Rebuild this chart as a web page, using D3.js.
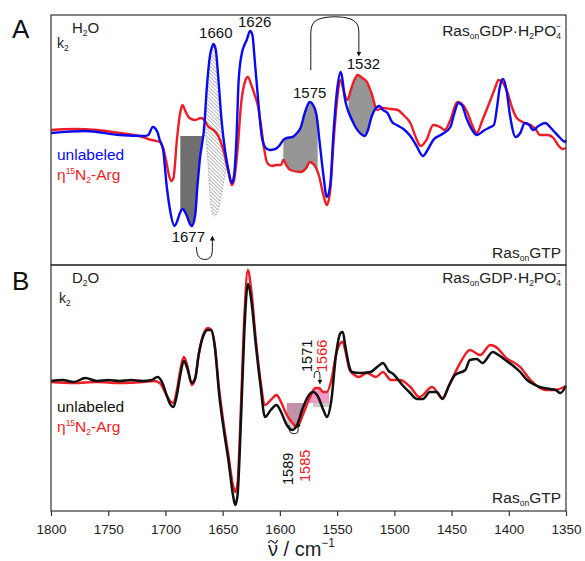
<!DOCTYPE html>
<html>
<head>
<meta charset="utf-8">
<script src="https://cdn.jsdelivr.net/npm/d3@7"></script>
<style>
  body { margin: 0; background: #fff; }
  svg { display: block; font-family: "Liberation Sans", Arial, sans-serif; }
</style>
</head>
<body>
<script>
// Spektren, [Wellenzahl, Differenzsignal]
const blueA = [[1800,-0.03],[1770,-0.01],[1740,-0.05],[1718,-0.06],[1715,-0.05],[1711,0.03],[1707,-0.02],[1705,-0.10],[1702,-0.20],[1699,-0.55],[1696,-0.80],[1692,-0.96],[1690,-0.92],[1687,-0.82],[1685,-0.79],[1682,-0.84],[1678,-0.95],[1677,-0.96],[1674,-0.85],[1672,-0.55],[1670,-0.30],[1666,0.05],[1664,0.40],[1661,0.75],[1659,0.84],[1658,0.86],[1656,0.80],[1654,0.55],[1651,0.10],[1648,-0.20],[1645,-0.40],[1642,-0.53],[1640,-0.45],[1638,-0.10],[1636,0.50],[1633,0.78],[1631,0.85],[1629,0.90],[1626,0.99],[1624,0.95],[1622,0.70],[1619,0.30],[1616,-0.05],[1613,-0.17],[1609,-0.20],[1604,-0.19],[1600,-0.15],[1597,-0.10],[1594,-0.08],[1589,-0.07],[1585,-0.03],[1582,0.02],[1578,0.18],[1574,0.28],[1571,0.25],[1568,0.15],[1565,-0.15],[1562,-0.45],[1559,-0.67],[1556,-0.55],[1553,0.0],[1550,0.40],[1547,0.58],[1546,0.55],[1543,0.30],[1540,0.18],[1537,0.10],[1534,0.03],[1530,-0.03],[1526,-0.06],[1523,0.0],[1520,0.13],[1516,0.22],[1513,0.24],[1510,0.20],[1506,0.17],[1502,0.08],[1498,0.05],[1492,0.01],[1486,-0.06],[1481,-0.15],[1475,-0.26],[1471,-0.20],[1466,-0.10],[1458,-0.04],[1451,0.03],[1448,0.15],[1444,0.27],[1441,0.25],[1437,0.12],[1432,0.0],[1428,-0.05],[1421,0.0],[1416,0.03],[1413,0.05],[1410,0.25],[1408,0.42],[1405,0.51],[1402,0.40],[1399,0.15],[1394,-0.07],[1390,-0.03],[1386,0.07],[1382,0.05],[1379,0.0],[1374,0.04],[1368,0.07],[1364,0.03],[1360,-0.02],[1355,-0.08],[1351,-0.12],[1350,-0.10]];

const redA = [[1800,0.0],[1780,0.01],[1760,0.0],[1740,-0.03],[1720,-0.07],[1712,-0.10],[1705,-0.12],[1702,-0.18],[1699,-0.33],[1697,-0.45],[1695,-0.51],[1693,-0.48],[1690,-0.10],[1687,0.18],[1685,0.25],[1683,0.20],[1679,0.12],[1674,0.10],[1669,0.12],[1666,0.10],[1663,0.04],[1657,-0.01],[1653,-0.08],[1649,-0.22],[1645,-0.42],[1642,-0.55],[1640,-0.50],[1637,-0.20],[1634,0.25],[1630,0.50],[1628,0.53],[1625,0.45],[1622,0.35],[1619,0.23],[1616,0.0],[1614,-0.17],[1611,-0.33],[1607,-0.36],[1603,-0.35],[1599,-0.35],[1597,-0.30],[1594,-0.36],[1591,-0.40],[1582,-0.42],[1577,-0.38],[1574,-0.32],[1570,-0.35],[1566,-0.45],[1562,-0.65],[1559,-0.75],[1556,-0.60],[1553,-0.10],[1550,0.30],[1547,0.50],[1544,0.38],[1541,0.30],[1538,0.40],[1535,0.50],[1532,0.55],[1528,0.52],[1524,0.48],[1520,0.37],[1515,0.20],[1510,0.22],[1503,0.21],[1497,0.20],[1492,0.15],[1486,0.07],[1481,-0.08],[1477,-0.16],[1472,-0.10],[1466,0.05],[1460,0.03],[1456,0.0],[1451,0.10],[1445,0.28],[1440,0.25],[1436,0.17],[1432,0.05],[1428,-0.03],[1423,0.10],[1416,0.30],[1412,0.42],[1409,0.50],[1405,0.47],[1401,0.37],[1397,0.22],[1393,0.12],[1386,0.07],[1381,0.05],[1376,0.0],[1373,-0.05],[1366,-0.05],[1361,-0.08],[1357,-0.15],[1353,-0.19],[1350,-0.18]];

// untere Kante der schraffierten Fläche (1660)
const hatchLow = [[1646,-0.30],[1648,-0.45],[1650,-0.57],[1652,-0.70],[1654,-0.80],[1656,-0.85],[1658,-0.86],[1660,-0.78],[1661,-0.65],[1663,-0.30],[1665,-0.02],[1666,0.05]];

const blackB = [[1800,0.0],[1790,0.01],[1780,-0.01],[1770,0.03],[1760,0.0],[1750,0.01],[1740,0.0],[1730,0.01],[1720,0.0],[1712,0.01],[1707,0.04],[1703,-0.01],[1699,-0.14],[1696,-0.23],[1693,-0.26],[1690,-0.14],[1687,0.06],[1684,0.20],[1681,0.13],[1677,-0.02],[1674,0.03],[1671,0.26],[1667,0.45],[1663,0.51],[1660,0.51],[1657,0.36],[1653,-0.14],[1649,-0.49],[1645,-0.79],[1641,-1.14],[1639,-1.24],[1637,-1.14],[1634,-0.39],[1631,0.51],[1628,0.97],[1625,0.81],[1621,0.36],[1617,-0.04],[1613,-0.36],[1608,-0.29],[1603,-0.24],[1599,-0.31],[1594,-0.44],[1589,-0.49],[1585,-0.44],[1580,-0.27],[1574,-0.13],[1571,-0.11],[1567,-0.15],[1562,-0.29],[1559,-0.36],[1555,-0.19],[1551,0.26],[1547,0.48],[1545,0.49],[1543,0.36],[1539,0.13],[1537,0.09],[1530,0.08],[1521,0.09],[1514,0.15],[1510,0.18],[1505,0.10],[1501,0.07],[1493,-0.04],[1487,-0.11],[1480,-0.18],[1475,-0.18],[1469,-0.11],[1463,-0.11],[1458,-0.18],[1452,-0.04],[1447,0.06],[1438,0.11],[1434,0.21],[1428,0.22],[1423,0.18],[1414,0.29],[1409,0.26],[1403,0.21],[1397,0.16],[1390,0.09],[1384,0.01],[1377,-0.04],[1373,-0.06],[1364,-0.08],[1359,-0.09],[1355,-0.12],[1350,-0.05]];

const redB = [[1800,-0.01],[1780,-0.02],[1760,-0.01],[1740,-0.02],[1720,-0.01],[1710,0.0],[1705,-0.02],[1700,-0.12],[1696,-0.20],[1693,-0.22],[1690,-0.09],[1687,0.11],[1684,0.24],[1681,0.16],[1677,-0.04],[1674,0.02],[1671,0.26],[1667,0.46],[1663,0.53],[1660,0.51],[1657,0.36],[1653,-0.09],[1649,-0.44],[1645,-0.74],[1641,-1.04],[1639,-1.11],[1637,-1.02],[1634,-0.24],[1631,0.66],[1628,1.11],[1625,0.91],[1621,0.41],[1617,0.01],[1613,-0.24],[1608,-0.19],[1603,-0.14],[1599,-0.21],[1594,-0.34],[1589,-0.42],[1585,-0.46],[1580,-0.34],[1574,-0.17],[1569,-0.07],[1566,-0.07],[1562,-0.11],[1559,-0.11],[1555,0.01],[1551,0.26],[1547,0.38],[1545,0.39],[1543,0.31],[1539,0.11],[1535,0.06],[1531,0.04],[1524,0.08],[1516,0.04],[1510,0.09],[1503,0.01],[1495,0.01],[1486,-0.06],[1478,-0.16],[1467,-0.06],[1458,-0.17],[1452,-0.04],[1447,0.08],[1441,0.21],[1434,0.31],[1425,0.26],[1416,0.36],[1410,0.33],[1403,0.24],[1390,0.14],[1381,0.01],[1368,-0.09],[1360,-0.09],[1350,-0.05]];

const xTicks = [1800, 1750, 1700, 1650, 1600, 1550, 1500, 1450, 1400, 1350];

// ==============================

const W = 585, H = 561;
const BLUE = "#0a0af0", RED = "#ee1c24", BLACK = "#111";

const svg = d3.select("body").append("svg").attr("width", W).attr("height", H);

const x = d3.scaleLinear().domain([1800, 1350]).range([51, 566]);
const yA = d3.scaleLinear().domain([0, 1]).range([130, 30]);
const yB = d3.scaleLinear().domain([0, 1]).range([381, 281]);

// lineare Interpolation in einer Serie (absteigende Wellenzahl)
function interp(s, w) {
    for (let i = 0; i < s.length - 1; i++) {
        const [w0, v0] = s[i], [w1, v1] = s[i + 1];
        if (w <= w0 && w >= w1) return v0 + (v1 - v0) * (w - w0) / (w1 - w0);
    }
    return s[s.length - 1][1];
}

// Punkte zwischen zwei Kurven (oder Kurve und Konstante)
function band(a, b, hi, lo) {
    const ws = new Set([hi, lo]);
    a.forEach(d => { if (d[0] < hi && d[0] > lo) ws.add(d[0]); });
    if (Array.isArray(b)) b.forEach(d => { if (d[0] < hi && d[0] > lo) ws.add(d[0]); });
    return [...ws].sort((p, q) => q - p).map(w => ({
        w, a: interp(a, w), b: Array.isArray(b) ? interp(b, w) : b
    }));
}

function fillBand(y, data, fill, opacity = 1) {
    svg.append("path")
        .datum(data)
        .attr("fill", fill)
        .attr("fill-opacity", opacity)
        .attr("d", d3.area().x(d => x(d.w)).y0(d => y(d.b)).y1(d => y(d.a)).curve(d3.curveMonotoneX));
}

function drawLine(y, s, color, width) {
    svg.append("path")
        .datum(s)
        .attr("fill", "none")
        .attr("stroke", color)
        .attr("stroke-width", width)
        .attr("stroke-linejoin", "round")
        .attr("d", d3.line().x(d => x(d[0])).y(d => y(d[1])).curve(d3.curveMonotoneX));
}

// Schraffur
const defs = svg.append("defs");
defs.append("pattern")
    .attr("id", "hatch")
    .attr("patternUnits", "userSpaceOnUse")
    .attr("width", 2.6).attr("height", 2.6)
    .attr("patternTransform", "rotate(-45)")
    .append("line")
    .attr("x1", 0).attr("y1", 0).attr("x2", 0).attr("y2", 2.6)
    .attr("stroke", "#666").attr("stroke-width", 0.9);

// ----- Panel A -----
fillBand(yA, band(blueA, -0.06, 1687, 1666), "#6f6f6f");
fillBand(yA, band(blueA, redA, 1597, 1567), "#969696");
fillBand(yA, band(redA, blueA, 1540, 1515), "#969696");

const hatchPoly = blueA.filter(d => d[0] <= 1666 && d[0] >= 1648).concat(hatchLow);
svg.append("path")
    .datum(hatchPoly)
    .attr("fill", "url(#hatch)")
    .attr("stroke", "#888")
    .attr("stroke-width", 0.7)
    .attr("stroke-dasharray", "1.5,1.5")
    .attr("d", d3.line().x(d => x(d[0])).y(d => yA(d[1])).curve(d3.curveCatmullRomClosed));

drawLine(yA, redA, RED, 2.4);
drawLine(yA, blueA, BLUE, 2.4);

// ----- Panel B -----
fillBand(yB, band(redB, -0.22, 1594, 1557), "#ee8fc0", 0.9);
fillBand(yB, band(blackB, -0.22, 1594, 1577), "#8a8a8a", 0.45);
fillBand(yB, band(blackB, -0.22, 1571, 1557).map(d => ({ w: d.w, a: -0.22, b: -0.26 })), "#bbbbbb", 0.8);

drawLine(yB, redB, RED, 2.4);
drawLine(yB, blackB, BLACK, 2.5);

// Rahmen
svg.append("rect").attr("x", 51).attr("y", 15).attr("width", 515).attr("height", 250)
    .attr("fill", "none").attr("stroke", "#333").attr("stroke-width", 1.2);
svg.append("rect").attr("x", 51).attr("y", 265).attr("width", 515).attr("height", 246)
    .attr("fill", "none").attr("stroke", "#333").attr("stroke-width", 1.2);

// x-Achse
const axis = svg.append("g")
    .attr("transform", "translate(0,511)")
    .call(d3.axisBottom(x).tickValues(xTicks).tickSize(5).tickPadding(8).tickFormat(d3.format("d")));
axis.select(".domain").remove();
axis.selectAll("line").attr("stroke", "#333").attr("stroke-width", 1.2);
axis.selectAll("text").attr("font-size", 13.5).attr("fill", "#222")
    .attr("font-family", "'Liberation Sans', Arial, sans-serif");

const xl = svg.append("text").attr("x", 268).attr("y", 556)
    .attr("font-size", 20).attr("fill", "#222");
const nu = xl.append("tspan").text("\u03BD");
xl.append("tspan").text(" / cm");
xl.append("tspan").attr("dy", -9).attr("font-size", 12).text("\u22121");
// Tilde über dem ν als Pfad
const nuC = 268 + nu.node().getComputedTextLength() / 2;
svg.append("path")
    .attr("d", d3.line().curve(d3.curveBasis)([[nuC - 4.5, 543], [nuC - 2.5, 539.5], [nuC, 542], [nuC + 2.5, 544], [nuC + 4.5, 540]]))
    .attr("fill", "none").attr("stroke", "#222").attr("stroke-width", 1.2);

// ----- Texte -----
function txt(px, py, size, color, anchor = "start") {
    return svg.append("text").attr("x", px).attr("y", py).attr("font-size", size)
        .attr("fill", color).attr("text-anchor", anchor);
}
function sub(t, s, dy = 3, size = 8.5) {
    t.append("tspan").attr("dy", dy).attr("font-size", size).text(s);
    return t;
}
function norm(t, s, dy) {
    t.append("tspan").attr("dy", dy).text(s);
    return t;
}

txt(12, 38, 26, "#111").text("A");
txt(12, 290, 26, "#111").text("B");

// Panel-Ecken
let t = txt(72, 33, 15, "#222"); norm(t, "H", 0); sub(t, "2", 3); norm(t, "O", -3);
t = txt(57, 48, 14, "#222"); norm(t, "k", 0); sub(t, "2", 3);
t = txt(72, 283, 15, "#222"); norm(t, "D", 0); sub(t, "2", 3); norm(t, "O", -3);
t = txt(59, 303, 14, "#222"); norm(t, "k", 0); sub(t, "2", 3);

function rasGDP(py) {
    const r = txt(561, py, 15.5, "#222", "end");
    norm(r, "Ras", 0); sub(r, "on", 3); norm(r, "GDP\u00B7H", -3); sub(r, "2", 3); norm(r, "PO", -3); sub(r, "4", 3);
    r.append("tspan").attr("dy", -10).attr("dx", -5).attr("font-size", 8.5).text("\u2212");
}
function rasGTP(py) {
    const r = txt(561, py, 15.5, "#222", "end");
    norm(r, "Ras", 0); sub(r, "on", 3); norm(r, "GTP", -3);
}
rasGDP(36); rasGTP(258);
rasGDP(283); rasGTP(503);

function legend(py, col1) {
    txt(57, py, 15.5, col1).text("unlabeled");
    const r = txt(57, py + 20, 15.5, RED);
    norm(r, "\u03B7", 0); sub(r, "15", -6); norm(r, "N", 6); sub(r, "2", 3); norm(r, "-Arg", -3);
}
legend(160, BLUE);
legend(412, BLACK);

// Peak-Beschriftungen Panel A
[["1660", 1656, 0.92], ["1626", 1622, 1.03], ["1575", 1574, 0.32], ["1532", 1527, 0.61], ["1677", 1680, -1.12]]
    .forEach(([s, w, v]) => txt(x(w), yA(v), 15, "#111", "middle").text(s));

// Pfeile
defs.append("marker").attr("id", "arr").attr("viewBox", "0 0 6 6").attr("refX", 3).attr("refY", 3)
    .attr("markerWidth", 5).attr("markerHeight", 5).attr("orient", "auto")
    .append("path").attr("d", "M0,0 L6,3 L0,6 Z").attr("fill", "#111");

function arrowPath(pts) {
    svg.append("path")
        .attr("d", d3.line().curve(d3.curveBasis)(pts))
        .attr("fill", "none").attr("stroke", "#111").attr("stroke-width", 1)
        .attr("marker-end", "url(#arr)");
}
arrowPath([[x(1573), yA(0.60)], [x(1573), yA(0.95)], [x(1573), yA(1.14)], [x(1531), yA(1.14)], [x(1531), yA(0.95)], [x(1531), yA(0.76)]]);
arrowPath([[x(1673), yA(-1.17)], [x(1672), yA(-1.30)], [x(1659), yA(-1.30)], [x(1659), yA(-1.17)], [x(1659), yA(-1.08)]]);
arrowPath([[x(1570), yB(0.03)], [x(1570), yB(0.10)], [x(1565), yB(0.10)], [x(1565), yB(0.04)], [x(1565), yB(-0.01)]]);
arrowPath([[x(1592), yB(-0.44)], [x(1592), yB(-0.53)], [x(1584), yB(-0.53)], [x(1584), yB(-0.47)], [x(1584), yB(-0.43)]]);

// gedrehte Beschriftungen Panel B
[["1589", 293, 485, BLACK], ["1585", 310, 482, RED], ["1571", 312, 372, BLACK], ["1566", 327, 372, RED]]
    .forEach(([s, px, py, c]) => svg.append("text")
        .attr("transform", `translate(${px},${py}) rotate(-90)`)
        .attr("font-size", 14.5).attr("fill", c).text(s));
</script>
</body>
</html>
